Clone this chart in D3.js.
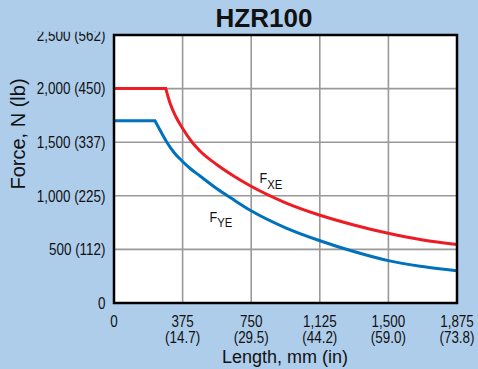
<!DOCTYPE html>
<html>
<head>
<meta charset="utf-8">
<script src="https://cdn.jsdelivr.net/npm/d3@7"></script>
<style>
  html, body { margin: 0; padding: 0; background: #aecdeb; }
  svg { display: block; }
  text { font-family: "Liberation Sans", Arial, sans-serif; fill: #111; }
</style>
</head>
<body>
<div id="chart"></div>
<script>
// chart data
const title = "HZR100";
const xTitle = "Length, mm (in)";
const yTitle = "Force, N (lb)";

const xTicks = [0, 375, 750, 1125, 1500, 1875];
const xTickMm = ["0", "375", "750", "1,125", "1,500", "1,875"];
const xTickIn = ["", "(14.7)", "(29.5)", "(44.2)", "(59.0)", "(73.8)"];

const yTicks = [0, 500, 1000, 1500, 2000, 2500];
const yTickLabels = ["0", "500 (112)", "1,000 (225)", "1,500 (337)", "2,000 (450)", "2,500 (562)"];

// F_XE (red)
const fxeLength = [0, 283, 306, 339, 372, 426, 470, 561, 652, 747, 935, 1122, 1311, 1499, 1688, 1875];
const fxeForce  = [2000, 2000, 1866, 1735, 1637, 1502, 1418, 1292, 1187, 1091, 937, 821, 728, 650, 588, 546];

// F_YE (blue)
const fyeLength = [0, 224, 251, 288, 328, 372, 415, 470, 561, 652, 747, 935, 1122, 1311, 1499, 1688, 1875];
const fyeForce  = [1700, 1700, 1614, 1502, 1404, 1325, 1257, 1185, 1068, 965, 863, 704, 583, 480, 395, 340, 300];

const W = 478, H = 369;
const margin = { top: 35, right: 21, bottom: 66, left: 114 };
const width = W - margin.left - margin.right;
const height = H - margin.top - margin.bottom;
const squeeze = 0.84; // the original uses a condensed face

const x = d3.scaleLinear().domain([0, 1875]).range([0, width]);
const y = d3.scaleLinear().domain([0, 2500]).range([height, 0]);

const svg = d3.select("#chart").append("svg")
  .attr("width", W)
  .attr("height", H);

svg.append("rect").attr("width", W).attr("height", H).attr("fill", "#aecdeb");

// condensed text at (px, py)
function narrowText(parent, px, py, str, size, anchor) {
  return parent.append("text")
    .attr("transform", `translate(${px},${py}) scale(${squeeze},1)`)
    .attr("text-anchor", anchor || "middle")
    .attr("font-size", size)
    .text(str);
}

// title
svg.append("text")
  .attr("x", 264).attr("y", 27)
  .attr("text-anchor", "middle")
  .attr("font-weight", "bold")
  .attr("font-size", 26)
  .text(title);

const g = svg.append("g").attr("transform", `translate(${margin.left},${margin.top})`);

g.append("rect").attr("width", width).attr("height", height).attr("fill", "#fff");

// grid
g.append("g").selectAll("line").data(xTicks.slice(1, -1)).join("line")
  .attr("x1", d => x(d)).attr("x2", d => x(d))
  .attr("y1", 0).attr("y2", height)
  .attr("stroke", "#999").attr("stroke-width", 1.6);
g.append("g").selectAll("line").data(yTicks.slice(1, -1)).join("line")
  .attr("x1", 0).attr("x2", width)
  .attr("y1", d => y(d)).attr("y2", d => y(d))
  .attr("stroke", "#999").attr("stroke-width", 1.6);

// curves: flat part straight, then smooth fall-off
function curvePath(lengths, forces) {
  const pts = lengths.map((l, i) => [l, forces[i]]);
  let corner = 0;
  pts.forEach((p, i) => { if (p[1] === pts[0][1]) corner = i; });
  const seg = d3.line().x(d => x(d[0])).y(d => y(d[1])).curve(d3.curveMonotoneX)(pts.slice(corner));
  return `M${x(pts[0][0])},${y(pts[0][1])}` + seg.replace(/^M/, "L");
}

g.append("path")
  .attr("d", curvePath(fyeLength, fyeForce))
  .attr("fill", "none").attr("stroke", "#0071bc").attr("stroke-width", 3);
g.append("path")
  .attr("d", curvePath(fxeLength, fxeForce))
  .attr("fill", "none").attr("stroke", "#ed1c24").attr("stroke-width", 3);

// frame
g.append("rect").attr("width", width).attr("height", height)
  .attr("fill", "none").attr("stroke", "#000").attr("stroke-width", 2.5);

// series labels, F with subscript
function seriesLabel(px, py, sub) {
  const t = svg.append("text")
    .attr("transform", `translate(${px},${py}) scale(${squeeze},1)`)
    .attr("font-size", 15);
  t.append("tspan").text("F");
  t.append("tspan").attr("dy", 5.5).attr("font-size", 13.5).text(sub);
}
seriesLabel(259.5, 183, "XE");
seriesLabel(209.5, 221.7, "YE");

// y tick labels (top one is cut off in the original)
svg.append("clipPath").attr("id", "yclip")
  .append("rect").attr("x", 0).attr("y", 31.7).attr("width", margin.left).attr("height", H);
const yl = svg.append("g").attr("clip-path", "url(#yclip)");
yTicks.forEach((d, i) => {
  narrowText(yl, 105.5, margin.top + y(d) + 5.7, yTickLabels[i], 16, "end");
});

// x tick labels, two lines
const xl = svg.append("g");
xTicks.forEach((d, i) => {
  narrowText(xl, margin.left + x(d), 326.5, xTickMm[i], 16);
  if (xTickIn[i]) narrowText(xl, margin.left + x(d), 342.5, xTickIn[i], 16);
});

// axis titles
svg.append("text")
  .attr("x", 285).attr("y", 362.5)
  .attr("text-anchor", "middle")
  .attr("font-size", 18)
  .text(xTitle);
svg.append("text")
  .attr("transform", "translate(25,134) rotate(-90)")
  .attr("text-anchor", "middle")
  .attr("font-size", 20)
  .text(yTitle);
</script>
</body>
</html>
